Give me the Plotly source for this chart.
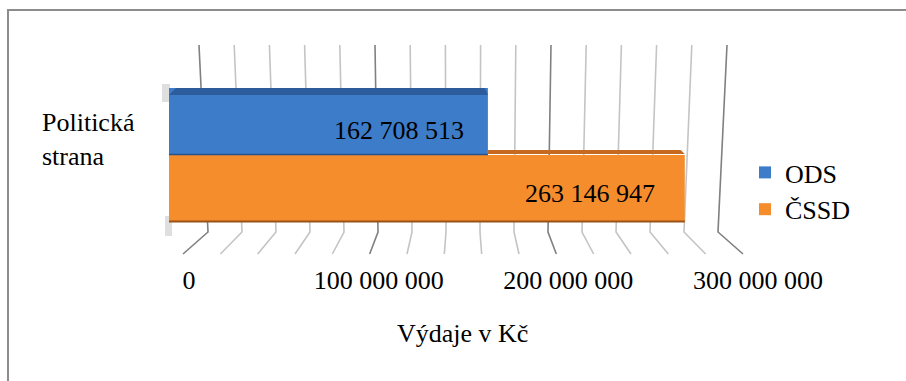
import plotly.graph_objects as go

# ---- data ----
categories = ["Politická strana"]
parties = ["ODS", "ČSSD"]
values_ods = [162708513]
values_cssd = [263146947]
tick_values = [0, 100000000, 200000000, 300000000]
grid_step = 20000000
x_max = 300000000
axis_title = "Výdaje v Kč"

W, H = 906, 381
FONT = "Liberation Serif, Times New Roman, Times, serif"


def px(x):
    return x / W


def py(y):
    return 1 - y / H


colors = {"ODS": "#3D7CC9", "ČSSD": "#F58D2D"}
top_colors = {"ODS": "#2C5C9B", "ČSSD": "#C7691E"}

fig = go.Figure()
fig.add_trace(go.Bar(y=categories, x=values_ods, name=parties[0], orientation="h",
                     marker=dict(color=colors["ODS"], line=dict(width=0)), hoverinfo="x+name"))
fig.add_trace(go.Bar(y=categories, x=values_cssd, name=parties[1], orientation="h",
                     marker=dict(color=colors["ČSSD"], line=dict(width=0)), hoverinfo="x+name"))

shapes = []
# perspective grid (back wall + floor), derived from tick step
n = x_max // grid_step
for i in range(n + 1):
    v = i * grid_step
    t = v / x_max
    x_top = 199 + t * 528
    x_mid = 208 + t * 510
    x_bot = 183 + t * 560
    major = (v % 100000000 == 0)
    col = "#808080" if major else "#c4c4c4"
    shapes.append(dict(type="path", xref="paper", yref="paper", layer="below",
                       path=f"M {px(x_top)},{py(45)} L {px(x_mid)},{py(232)} L {px(x_bot)},{py(254)}",
                       line=dict(color=col, width=1.6)))

# soft shadows at the left corners of the bars
for (x0, x1, y0, y1) in ((162, 170, 84, 102), (165, 172, 216, 236)):
    shapes.append(dict(type="rect", xref="paper", yref="paper", layer="below",
                       x0=px(x0), x1=px(x1), y0=py(y1), y1=py(y0),
                       fillcolor="rgba(110,110,110,0.22)", line=dict(width=0)))

# top faces of bars (from data values)
shapes.append(dict(type="path", xref="x", yref="paper", layer="above",
                   path=f"M {values_ods[0]},{py(154)} L {values_cssd[0]},{py(154)} L {values_cssd[0] * 0.992},{py(150)} L {values_ods[0]},{py(150)} Z",
                   fillcolor=top_colors["ČSSD"], line=dict(width=0)))
shapes.append(dict(type="path", xref="x", yref="paper", layer="above",
                   path=f"M 0,{py(95)} L {values_ods[0]},{py(95)} L {values_ods[0] * 0.99},{py(88)} L {x_max * 0.012},{py(88)} Z",
                   fillcolor=top_colors["ODS"], line=dict(width=0)))
shapes.append(dict(type="line", xref="x", yref="paper", layer="above",
                   x0=0, x1=values_cssd[0], y0=py(221.5), y1=py(221.5),
                   line=dict(color="#9a5216", width=2)))
shapes.append(dict(type="line", xref="x", yref="paper", layer="above",
                   x0=0, x1=values_ods[0], y0=py(154.5), y1=py(154.5),
                   line=dict(color="#24528d", width=1.5)))

# outer border (top + left only visible)
shapes.append(dict(type="path", xref="paper", yref="paper", layer="above",
                   path=f"M {px(8)},{py(400)} L {px(8)},{py(10)} L {px(920)},{py(10)}",
                   line=dict(color="#8c8c8c", width=2)))

annotations = []
# data labels
for vals, xs, ys in ((values_ods, -22, 25), (values_cssd, -28, -38)):
    annotations.append(dict(x=vals[0], y=categories[0], xref="x", yref="y",
                            text=f"{vals[0]:,}".replace(",", " "), showarrow=False,
                            xanchor="right", yanchor="middle", xshift=xs, yshift=ys,
                            font=dict(family=FONT, size=26, color="black")))
# category label
annotations.append(dict(x=px(40), y=py(140), xref="paper", yref="paper",
                        text=categories[0].replace(" ", "<br>"), showarrow=False,
                        xanchor="left", yanchor="middle", align="left",
                        font=dict(family=FONT, size=26, color="black")))
# axis title
annotations.append(dict(x=px(463), y=py(333), xref="paper", yref="paper",
                        text=axis_title, showarrow=False, xanchor="center", yanchor="middle",
                        font=dict(family=FONT, size=26, color="black")))

fig.update_layout(
    width=W, height=H, autosize=False,
    margin=dict(l=0, r=0, t=0, b=0, autoexpand=False),
    paper_bgcolor="white", plot_bgcolor="rgba(0,0,0,0)",
    barmode="group", bargap=0.391, bargroupgap=0,
    separators=", ",
    font=dict(family=FONT, size=26, color="black"),
    xaxis=dict(domain=[px(169), px(757)], range=[0, x_max], showgrid=False, zeroline=False,
               showline=False, showticklabels=False, ticks="", fixedrange=True),
    xaxis2=dict(domain=[px(189), px(758)], range=[0, x_max], anchor="free",
                position=py(262), side="bottom", tickvals=tick_values,
                ticktext=[f"{v:,}".replace(",", " ") for v in tick_values],
                showgrid=False, zeroline=False, showline=False, ticks="", automargin=False,
                fixedrange=True, tickfont=dict(family=FONT, size=26, color="black")),
    yaxis=dict(domain=[py(265), py(45)], autorange="reversed", showgrid=False, zeroline=False,
               showline=False, showticklabels=False, ticks="", fixedrange=True),
    legend=dict(x=px(745), y=py(149), xanchor="left", yanchor="top", itemwidth=30,
                font=dict(family=FONT, size=26, color="black"), bgcolor="rgba(0,0,0,0)",
                tracegroupgap=0, itemclick=False),
    shapes=shapes, annotations=annotations, showlegend=True,
)
# invisible trace to activate xaxis2
fig.add_trace(go.Scatter(x=[0], y=categories, xaxis="x2", mode="markers",
                         marker=dict(opacity=0), showlegend=False, hoverinfo="skip"))

fig.write_html("out.html")
